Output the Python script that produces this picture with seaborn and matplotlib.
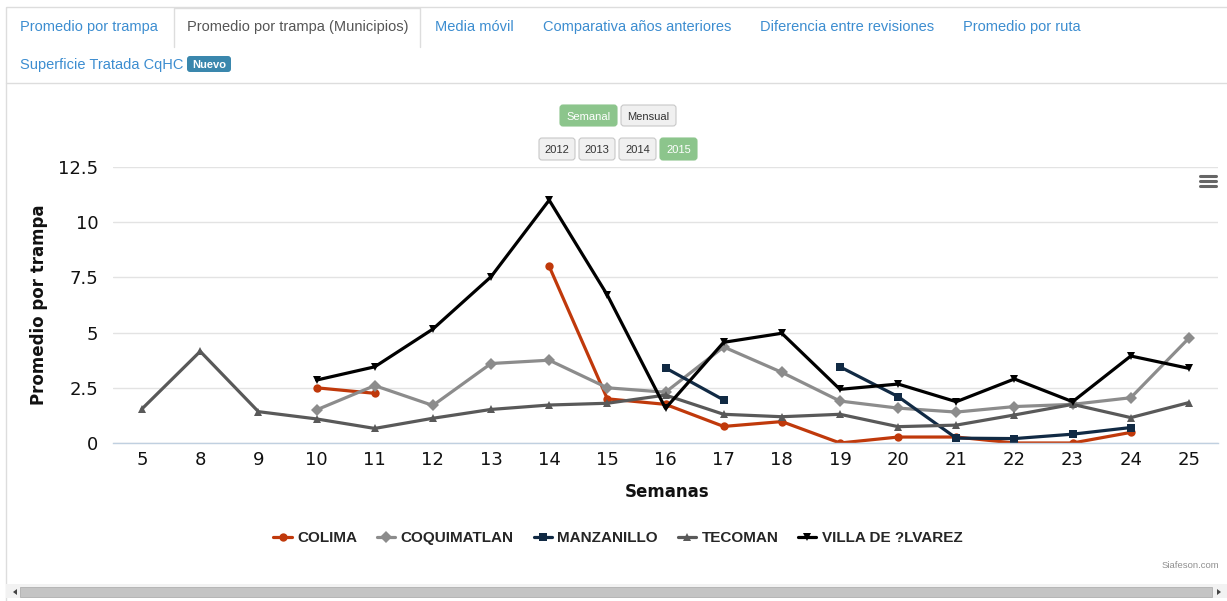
import numpy as np
import pandas as pd
import matplotlib
matplotlib.use('Agg')
import matplotlib.pyplot as plt
import matplotlib.transforms as mtransforms
from matplotlib.patches import FancyBboxPatch, Rectangle, Polygon
from matplotlib.lines import Line2D
import seaborn as sns

# Datos
semanas = ['5', '8', '9', '10', '11', '12', '13', '14', '15', '16',
           '17', '18', '19', '20', '21', '22', '23', '24', '25']
nan = np.nan
colima = [nan, nan, nan, 2.5, 2.25, nan, nan, 8.0, 2.0, 1.75,
          0.75, 0.97, 0.0, 0.27, 0.27, 0.0, 0.0, 0.48, nan]
coquimatlan = [nan, nan, nan, 1.5, 2.6, 1.7, 3.6, 3.75, 2.5, 2.3,
               4.35, 3.2, 1.9, 1.58, 1.4, 1.65, 1.75, 2.05, 4.75]
manzanillo = [nan, nan, nan, nan, nan, nan, nan, nan, nan, 3.4,
              1.95, nan, 3.45, 2.1, 0.22, 0.2, 0.4, 0.7, nan]
tecoman = [1.55, 4.15, 1.42, 1.09, 0.66, 1.12, 1.52, 1.72, 1.8, 2.17,
           1.3, 1.19, 1.3, 0.74, 0.81, 1.27, 1.75, 1.15, 1.83]
villa = [nan, nan, nan, 2.85, 3.45, 5.16, 7.53, 11.0, 6.7, 1.57,
         4.56, 4.97, 2.43, 2.67, 1.87, 2.9, 1.87, 3.94, 3.38]

municipios = ['COLIMA', 'COQUIMATLAN', 'MANZANILLO', 'TECOMAN', 'VILLA DE ?LVAREZ']
series = [colima, coquimatlan, manzanillo, tecoman, villa]
colores = ['#c0390b', '#8c8c8c', '#112a44', '#595959', '#000000']
marcadores = ['o', 'D', 's', '^', 'v']

# tabla larga; cada tramo continuo lleva su propio id para no unir huecos
filas = []
tramo = 0
for nombre, valores in zip(municipios, series):
    prev_nan = True
    for i, v in enumerate(valores):
        if np.isnan(v):
            prev_nan = True
            continue
        if prev_nan:
            tramo += 1
        prev_nan = False
        filas.append({'pos': i, 'valor': v, 'municipio': nombre, 'tramo': tramo})
df = pd.DataFrame(filas)

sns.set_theme(style='white')
plt.rcParams['font.family'] = ['DejaVu Sans']

W, H, DPI = 1227, 601, 100
fig = plt.figure(figsize=(W / DPI, H / DPI), dpi=DPI)
fig.patch.set_facecolor('white')
pix = mtransforms.Affine2D().scale(1 / DPI, -1 / DPI).translate(0, H / DPI) + fig.dpi_scale_trans

# --- Marco de pestañas ---
borde = '#dddddd'
fig.add_artist(Rectangle((6, 7), 1230, 620, transform=pix, fill=False, edgecolor=borde, lw=1))
fig.add_artist(Line2D([6, 1227], [83, 83], transform=pix, color=borde, lw=1))
fig.add_artist(Line2D([174, 174, 420, 420], [47, 8, 8, 47], transform=pix, color=borde, lw=1))

azul = '#3c8dd0'
ui_font = ['Liberation Sans', 'DejaVu Sans']
tabs = [(20, 'Promedio por trampa', azul), (187, 'Promedio por trampa (Municipios)', '#555555'),
        (435, 'Media móvil', azul), (543, 'Comparativa años anteriores', azul),
        (760, 'Diferencia entre revisiones', azul), (963, 'Promedio por ruta', azul)]
for x, t, c in tabs:
    fig.text(x, 31, t, transform=pix, color=c, fontsize=10.5, family=ui_font, va='baseline', ha='left')
fig.text(20, 69, 'Superficie Tratada CqHC', transform=pix, color=azul, fontsize=10.5,
         family=ui_font, va='baseline', ha='left')
fig.add_artist(FancyBboxPatch((187, 56), 44, 16, boxstyle='round,pad=0,rounding_size=3',
                              transform=pix, facecolor='#3a87ad', edgecolor='none'))
fig.text(209, 68, 'Nuevo', transform=pix, color='white', fontsize=8, weight='bold',
         family=ui_font, va='baseline', ha='center')

# --- Botones ---
verde = '#8cc58c'
botones = [(560, 105, 57, 21, 'Semanal', True), (621, 105, 55, 21, 'Mensual', False),
           (539, 138, 36, 22, '2012', False), (579, 138, 36, 22, '2013', False),
           (619, 138, 37, 22, '2014', False), (660, 138, 37, 22, '2015', True)]
for x, y, w, h, t, activo in botones:
    fig.add_artist(FancyBboxPatch((x, y), w, h, boxstyle='round,pad=0,rounding_size=3', transform=pix,
                                  facecolor=verde if activo else '#f0f0f0',
                                  edgecolor=verde if activo else '#c8c8c8', lw=0.8))
    fig.text(x + w / 2, y + h / 2 + 4, t, transform=pix, fontsize=8, family=ui_font,
             color='white' if activo else '#333333', ha='center', va='baseline')

# --- Gráfica ---
ax = fig.add_axes([113 / W, (H - 443) / H, (1218 - 113) / W, (443 - 167) / H])
sns.lineplot(data=df, x='pos', y='valor', hue='municipio', style='municipio', units='tramo',
             estimator=None, sort=False, hue_order=municipios, style_order=municipios,
             palette=dict(zip(municipios, colores)), markers=dict(zip(municipios, marcadores)),
             dashes=False, linewidth=2.3, markersize=6, markeredgewidth=0, ax=ax)

ax.set_xlim(-0.5, len(semanas) - 0.5)
ax.set_ylim(0, 12.5)
ax.set_yticks([0, 2.5, 5, 7.5, 10, 12.5])
ax.set_yticklabels(['0', '2.5', '5', '7.5', '10', '12.5'])
ax.set_xticks(range(len(semanas)))
ax.set_xticklabels(semanas)
ax.set_xticks(np.arange(-0.5, len(semanas), 1), minor=True)
ax.tick_params(axis='y', length=0, pad=10.5, labelsize=13, labelcolor='#111111')
ax.tick_params(axis='x', which='major', length=0, pad=6, labelsize=13, labelcolor='#111111')
ax.tick_params(axis='x', which='minor', length=7, width=1, color='#c0d0e0', direction='out')
ax.yaxis.grid(True, color='#e3e3e3', lw=1)
ax.xaxis.grid(False)
for lado in ['top', 'left', 'right']:
    ax.spines[lado].set_visible(False)
ax.spines['bottom'].set_color('#c0d0e0')
ax.spines['bottom'].set_linewidth(1)
ax.set_axisbelow(True)

ax.set_ylabel('Promedio por trampa', fontsize=12, weight='bold', color='#111111')
ax.set_xlabel('Semanas', fontsize=12, weight='bold', color='#111111')
ax.yaxis.set_label_coords((48 - 113) / 1105, 0.5)
ax.xaxis.set_label_coords((667 - 113) / 1105, (443 - 483) / 276)

handles, labels = ax.get_legend_handles_labels()
ax.legend(handles, labels, ncol=5, loc='center', bbox_to_anchor=(618 / W, 1 - 538 / H),
          bbox_transform=fig.transFigure, frameon=False, handlelength=1.2, handletextpad=0.35,
          columnspacing=1.3, prop={'family': ['Liberation Sans'], 'weight': 'bold', 'size': 11})

# icono de menú
for yy in [176, 181, 186]:
    fig.add_artist(Line2D([1200, 1216], [yy, yy], transform=pix, color='#666666', lw=2.2))

fig.text(1219, 565, 'Siafeson.com', transform=pix, fontsize=6.8, color='#909090',
         family=ui_font, ha='right', va='center')

# barra de desplazamiento
fig.add_artist(Rectangle((6, 584), 1221, 14, transform=pix, facecolor='#f2f2f2', edgecolor='none'))
fig.add_artist(Rectangle((20, 587), 1192, 10, transform=pix, facecolor='#c4c4c4', edgecolor='#b0b0b0', lw=0.6))
fig.add_artist(Polygon([[13, 592], [17, 589], [17, 595]], transform=pix, facecolor='#444444', edgecolor='none'))
fig.add_artist(Polygon([[1221, 592], [1217, 589], [1217, 595]], transform=pix, facecolor='#444444', edgecolor='none'))

fig.savefig('out.png', dpi=DPI, facecolor='white')
